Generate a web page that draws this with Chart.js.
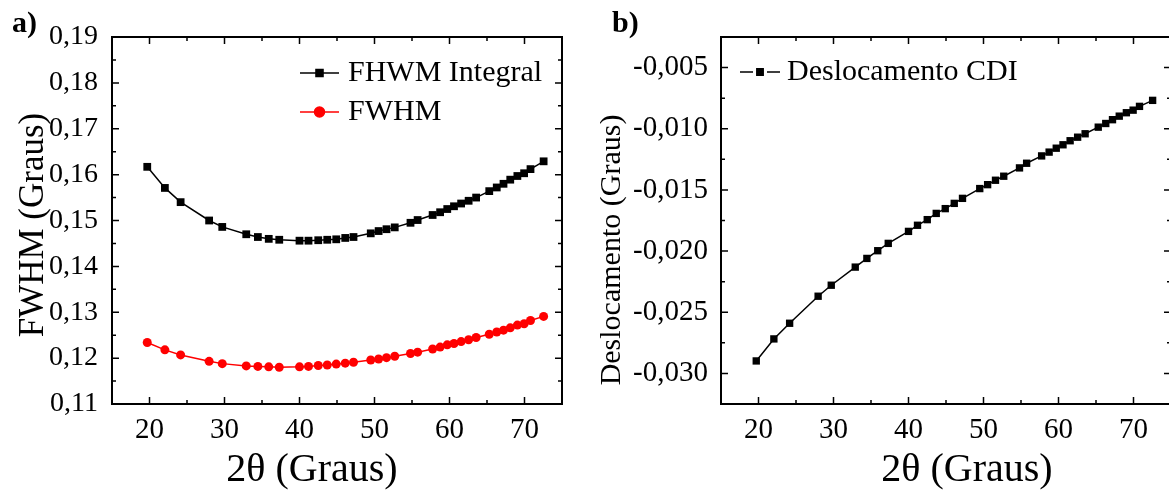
<!DOCTYPE html>
<html>
<head>
<meta charset="utf-8">
<script src="https://cdn.jsdelivr.net/npm/chart.js@4.4.1/dist/chart.umd.min.js"></script>
<style>
html, body { margin: 0; padding: 0; background: #fff; overflow: hidden; width: 1169px; height: 491px; }
#chartA { position: absolute; left: 0; top: 0; }
#chartB { position: absolute; left: 600px; top: 0; }
</style>
</head>
<body>
<canvas id="chartA" width="600" height="491"></canvas>
<canvas id="chartB" width="580" height="491"></canvas>
<script>
// 2theta positions, same for both panels
const twoTheta = [19.7, 22.05, 24.15, 27.95, 29.7, 32.9, 34.45, 35.9, 37.3, 40.0,
  41.2, 42.5, 43.7, 44.9, 46.1, 47.2, 49.5, 50.55, 51.6, 52.7,
  54.8, 55.75, 57.75, 58.75, 59.7, 60.6, 61.55, 62.55, 63.55, 65.3,
  66.3, 67.2, 68.1, 69.05, 69.95, 70.8, 72.55];

const fwhmIntegral = [0.1617, 0.1571, 0.1540, 0.1500, 0.1486, 0.1470, 0.1464, 0.1460, 0.1458, 0.1456,
  0.1456, 0.1457, 0.1458, 0.1459, 0.1462, 0.1464, 0.1472, 0.1477, 0.1481, 0.1485,
  0.1495, 0.1501, 0.1512, 0.1518, 0.1525, 0.1531, 0.1537, 0.1543, 0.1550, 0.1564,
  0.1572, 0.1580, 0.1589, 0.1597, 0.1603, 0.1612, 0.1629];

const fwhm = [0.1234, 0.1218, 0.1207, 0.1193, 0.1188, 0.1183, 0.1182, 0.1181, 0.1180, 0.1181,
  0.1182, 0.1184, 0.1185, 0.1187, 0.1189, 0.1191, 0.1196, 0.1198, 0.1201, 0.1204,
  0.1210, 0.1213, 0.1220, 0.1224, 0.1229, 0.1232, 0.1236, 0.1240, 0.1245, 0.1252,
  0.1257, 0.1261, 0.1266, 0.1272, 0.1275, 0.1282, 0.1291];

const deslocamento = [-0.02898, -0.02718, -0.02590, -0.02369, -0.02279, -0.02131, -0.02060, -0.01997, -0.01937, -0.01839,
  -0.01789, -0.01743, -0.01692, -0.01653, -0.01610, -0.01569, -0.01489, -0.01457, -0.01421, -0.01388,
  -0.01320, -0.01282, -0.01222, -0.01191, -0.01159, -0.01131, -0.01098, -0.01069, -0.01041, -0.00987,
  -0.00957, -0.00926, -0.00897, -0.00869, -0.00848, -0.00817, -0.00768];

const xTickLabels = ["20", "30", "40", "50", "60", "70"];
const fwhmTickLabels = ["0,11", "0,12", "0,13", "0,14", "0,15", "0,16", "0,17", "0,18", "0,19"];
const deslTickLabels = ["-0,030", "-0,025", "-0,020", "-0,015", "-0,010", "-0,005"];

Chart.defaults.font.family = '"Liberation Serif", "Times New Roman", serif';
Chart.defaults.color = "#000";

const toPoints = arr => twoTheta.map((x, i) => ({ x: x, y: arr[i] }));

// box around plot area + inward ticks on all four sides
const framePlugin = {
  id: "frame",
  beforeDatasetsDraw(chart) {
    const { ctx, chartArea: a, scales: { x, y } } = chart;
    ctx.save();
    ctx.strokeStyle = "#000";
    ctx.lineWidth = 1.5;
    ctx.beginPath();
    x.ticks.forEach(t => {
      const px = x.getPixelForValue(t.value);
      const len = t.label !== "" ? 7 : 4;
      ctx.moveTo(px, a.bottom); ctx.lineTo(px, a.bottom - len);
      ctx.moveTo(px, a.top); ctx.lineTo(px, a.top + len);
    });
    y.ticks.forEach(t => {
      const py = y.getPixelForValue(t.value);
      const len = t.label !== "" ? 7 : 4;
      ctx.moveTo(a.left, py); ctx.lineTo(a.left + len, py);
      ctx.moveTo(a.right, py); ctx.lineTo(a.right - len, py);
    });
    ctx.stroke();
    ctx.lineWidth = 2;
    ctx.strokeRect(a.left, a.top, a.right - a.left, a.bottom - a.top);
    ctx.restore();
  }
};

// legend drawn as line + marker like the original
const lineLegend = {
  id: "lineLegend",
  afterDraw(chart, args, opts) {
    const ctx = chart.ctx;
    ctx.save();
    ctx.font = opts.font;
    ctx.textBaseline = "middle";
    chart.data.datasets.forEach((ds, i) => {
      const y = opts.y + i * opts.rowGap;
      const x0 = opts.x, x1 = opts.x + opts.lineLength, xm = (x0 + x1) / 2;
      ctx.strokeStyle = ds.borderColor;
      ctx.fillStyle = ds.borderColor;
      ctx.lineWidth = ds.borderWidth;
      ctx.beginPath();
      if (opts.gap) {
        ctx.moveTo(x0, y); ctx.lineTo(xm - opts.gap, y);
        ctx.moveTo(xm + opts.gap, y); ctx.lineTo(x1, y);
      } else {
        ctx.moveTo(x0, y); ctx.lineTo(x1, y);
      }
      ctx.stroke();
      Chart.helpers.drawPoint(ctx, { pointStyle: ds.pointStyle, radius: opts.markerRadius, borderWidth: 1 }, xm, y);
      ctx.fillStyle = "#000";
      ctx.fillText(ds.label, opts.textX, y);
    });
    ctx.restore();
  }
};

// panel letter and axis titles (placed like the original, which is not centred)
const panelText = {
  id: "panelText",
  afterDraw(chart, args, opts) {
    const ctx = chart.ctx;
    ctx.save();
    ctx.fillStyle = "#000";
    ctx.font = 'bold 30px "Liberation Serif"';
    ctx.textBaseline = "alphabetic";
    ctx.fillText(opts.letter, 12, 32);
    ctx.textAlign = "center";
    ctx.textBaseline = "middle";
    ctx.font = opts.xTitleFont;
    ctx.fillText(opts.xTitle, opts.xTitleX, opts.xTitleY);
    ctx.font = opts.yTitleFont;
    ctx.translate(opts.yTitleX, opts.yTitleY);
    ctx.rotate(-Math.PI / 2);
    ctx.fillText(opts.yTitle, 0, 0);
    ctx.restore();
  }
};

const xScale = () => ({
  type: "linear",
  min: 15,
  max: 75,
  grid: { display: false, drawTicks: false },
  border: { display: false },
  ticks: {
    stepSize: 5,
    autoSkip: false,
    maxRotation: 0,
    padding: 9,
    font: { size: 29 },
    callback: v => xTickLabels.includes(String(v)) ? String(v) : ""
  },
  afterFit: s => { s.height = 87; }
});

new Chart(document.getElementById("chartA"), {
  type: "line",
  data: {
    datasets: [
      {
        label: "FHWM Integral",
        data: toPoints(fwhmIntegral),
        borderColor: "#000",
        backgroundColor: "#000",
        borderWidth: 1.5,
        pointStyle: "rect",
        pointRadius: 5.5,
        pointBorderWidth: 0,
        tension: 0
      },
      {
        label: "FWHM",
        data: toPoints(fwhm),
        borderColor: "#ff0000",
        backgroundColor: "#ff0000",
        borderWidth: 1.5,
        pointStyle: "circle",
        pointRadius: 4.5,
        pointBorderWidth: 0,
        tension: 0
      }
    ]
  },
  options: {
    responsive: false,
    animation: false,
    layout: { padding: { left: 0, right: 38, top: 37, bottom: 0 } },
    scales: {
      x: xScale(),
      y: {
        min: 0.11,
        max: 0.19,
        grid: { display: false, drawTicks: false },
        border: { display: false },
        ticks: {
          stepSize: 0.005,
          autoSkip: false,
          padding: 14,
          font: { size: 28 },
          callback: v => {
            const s = v.toFixed(2).replace(".", ",");
            return Math.abs(v * 100 - Math.round(v * 100)) < 1e-6 && fwhmTickLabels.includes(s) ? s : "";
          }
        },
        afterFit: s => { s.width = 112; }
      }
    },
    plugins: {
      legend: { display: false },
      tooltip: { enabled: false },
      lineLegend: { x: 300, lineLength: 39, y: 73, rowGap: 39, textX: 348, markerRadius: 5, font: '30px "Liberation Serif"' },
      panelText: {
        letter: "a)",
        xTitle: "2θ (Graus)", xTitleFont: '40px "Liberation Serif"', xTitleX: 312, xTitleY: 470,
        yTitle: "FWHM (Graus)", yTitleFont: '35px "Liberation Serif"', yTitleX: 34, yTitleY: 225
      }
    }
  },
  plugins: [framePlugin, lineLegend, panelText]
});

new Chart(document.getElementById("chartB"), {
  type: "line",
  data: {
    datasets: [
      {
        label: "Deslocamento CDI",
        data: toPoints(deslocamento),
        borderColor: "#000",
        backgroundColor: "#000",
        borderWidth: 1.5,
        pointStyle: "rect",
        pointRadius: 5.2,
        pointBorderWidth: 0,
        tension: 0
      }
    ]
  },
  options: {
    responsive: false,
    animation: false,
    layout: { padding: { left: 0, right: 9, top: 37, bottom: 0 } },
    scales: {
      x: xScale(),
      y: {
        min: -0.0325,
        max: -0.0025,
        grid: { display: false, drawTicks: false },
        border: { display: false },
        ticks: {
          stepSize: 0.0025,
          autoSkip: false,
          padding: 13,
          font: { size: 29 },
          callback: v => {
            const s = v.toFixed(3).replace(".", ",");
            return Math.abs(v * 200 - Math.round(v * 200)) < 1e-6 && deslTickLabels.includes(s) ? s : "";
          }
        },
        afterFit: s => { s.width = 121; }
      }
    },
    plugins: {
      legend: { display: false },
      tooltip: { enabled: false },
      lineLegend: { x: 140, lineLength: 40, gap: 7, y: 72, rowGap: 0, textX: 187, markerRadius: 4.5, font: '30px "Liberation Serif"' },
      panelText: {
        letter: "b)",
        xTitle: "2θ (Graus)", xTitleFont: '40px "Liberation Serif"', xTitleX: 367, xTitleY: 470,
        yTitle: "Deslocamento (Graus)", yTitleFont: '30px "Liberation Serif"', yTitleX: 12, yTitleY: 250
      }
    }
  },
  plugins: [framePlugin, lineLegend, panelText]
});
</script>
</body>
</html>
